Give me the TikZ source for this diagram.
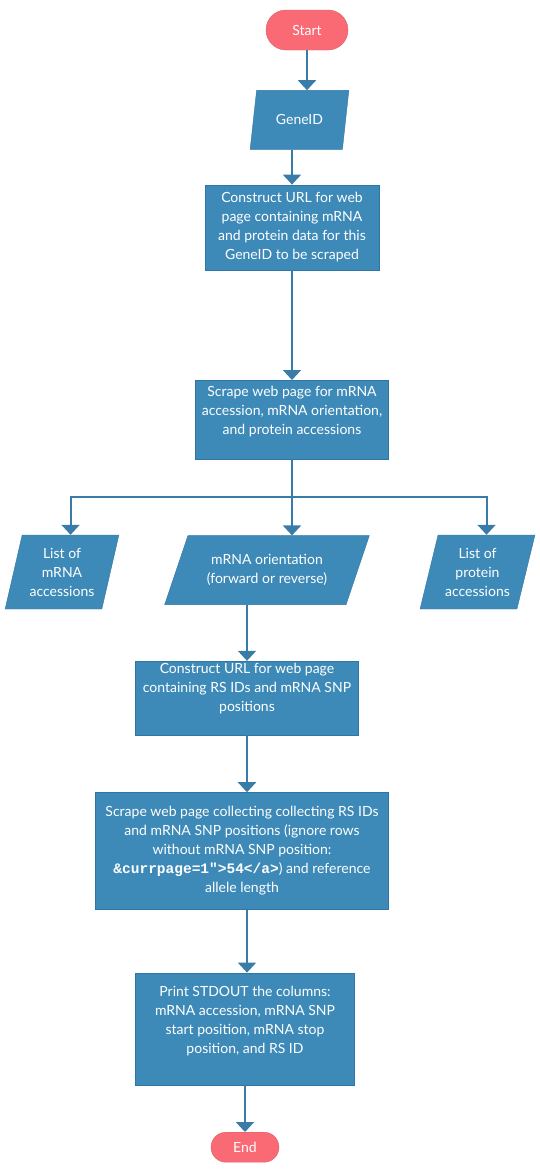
\documentclass[tikz,border=0pt]{standalone}
\usepackage{fontspec}
\setmainfont{Lato}
\newfontfamily\codefont{Liberation Mono}
\usepackage{tikz}
\usetikzlibrary{arrows.meta, positioning, shapes.geometric, calc}
\definecolor{flow_blue}{RGB}{61, 138, 185}
\definecolor{flow_edge}{RGB}{46, 118, 163}
\definecolor{flow_line}{RGB}{58, 124, 168}
\definecolor{flow_red}{RGB}{249, 106, 116}
\definecolor{flow_redge}{RGB}{226, 92, 102}
\newcommand{\flowcode}[1]{{\codefont\bfseries\fontsize{14.5}{19}\selectfont #1}}

\begin{document}
\begin{tikzpicture}[
        x=1pt, y=-1pt,
        every node/.style={font=\fontsize{14}{19}\selectfont, text=white},
        term/.style={rectangle, rounded corners=#1, draw=flow_redge, fill=flow_red,
                     minimum height=2*#1},
        process/.style={rectangle, draw=flow_edge, fill=flow_blue, align=center,
                        inner sep=1pt},
        data/.style={trapezium, trapezium stretches=true, draw=flow_edge,
                     fill=flow_blue, align=center, inner sep=0pt},
        lifted/.style={text depth=#1},
        arr/.style={-{Triangle[width=18pt, length=10pt]}, line width=2pt, flow_line},
        link/.style={line width=2pt, flow_line},
      ]
        \useasboundingbox (0,0) rectangle (540,1170);

        \node[term=20pt, minimum width=82pt] (start) at (307,30) {Start};
        \node[data, trapezium left angle=71, trapezium right angle=109,
              minimum width=99pt, minimum height=59pt, below=40pt of start, xshift=-7.5pt]
              (gene) {GeneID};
        \node[process, minimum width=174pt, minimum height=85pt, below=35pt of gene, xshift=-7.5pt]
              (url) {Construct URL for web\\ page containing mRNA\\ and protein data for this\\ GeneID to be scraped};
        \node[process, lifted=18pt, minimum width=193pt, minimum height=79pt, below=110pt of url]
              (scrape) {Scrape web page for mRNA\\ accession, mRNA orientation,\\ and protein accessions};

        \node[data, trapezium left angle=60.5, trapezium right angle=119.5,
              minimum width=205pt, minimum height=69pt, below=76pt of scrape, xshift=-25pt]
              (orient) {mRNA orientation\\ (forward or reverse)};
        \node[data, trapezium left angle=74, trapezium right angle=106,
              minimum width=114pt, minimum height=74pt] (mlist) at (62,572)
              {List of\\ mRNA\\ accessions};
        \node[data, trapezium left angle=73, trapezium right angle=107,
              minimum width=115pt, minimum height=74pt] (plist) at (477.5,572)
              {List of\\ protein\\ accessions};

        \node[process, lifted=21pt, minimum width=223pt, minimum height=74pt, below=56pt of orient, xshift=-20pt]
              (rsurl) {Construct URL for web page\\ containing RS IDs and mRNA SNP\\ positions};
        \node[process, minimum width=293pt, minimum height=117pt, below=57pt of rsurl, xshift=-5pt]
              (collect) {Scrape web page collecting collecting RS IDs\\ and mRNA SNP positions (ignore rows\\
                         without mRNA SNP position:\\ \flowcode{\&currpage=1">54</a>}) and reference\\ allele length};
        \node[process, lifted=18pt, minimum width=219pt, minimum height=112pt, below=63pt of collect, xshift=3pt]
              (print) {Print STDOUT the columns:\\ mRNA accession, mRNA SNP\\ start position, mRNA stop\\ position, and RS ID};
        \node[term=15pt, minimum width=68pt, below=47pt of print] (end) {End};

        % main column
        \draw[arr] (start.south) -- (start.south |- gene.north);
        \draw[arr] (url.north |- gene.south) -- (url.north);
        \draw[arr] (url.south) -- (scrape.north);

        % three outputs of the scrape
        \coordinate (split) at ($(scrape.south)+(0,38)$);
        \draw[arr] (scrape.south) -- (scrape.south |- orient.north);
        \draw[arr] (split) -| ($(mlist.top left corner)!.5!(mlist.top right corner)$);
        \draw[arr] (split) -| ($(plist.top left corner)!.5!(plist.top right corner)$);

        \draw[arr] (rsurl.north |- orient.south) -- (rsurl.north);
        \draw[arr] (rsurl.south) -- (rsurl.south |- collect.north);
        \draw[arr] (rsurl.south |- collect.south) -- (rsurl.south |- print.north);
        \draw[arr] (print.south) -- (end.north);
      \end{tikzpicture}
\end{document}
